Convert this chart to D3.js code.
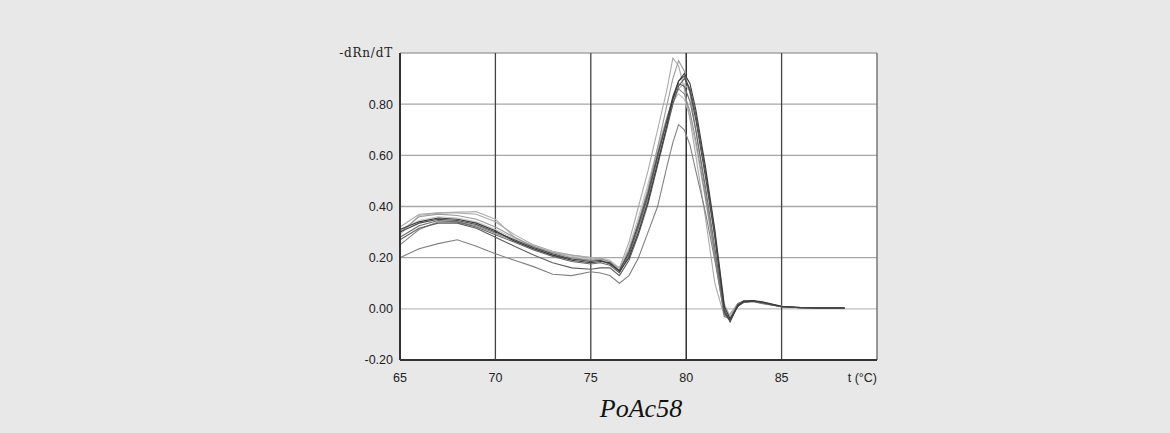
<!DOCTYPE html>
<html>
<head>
<meta charset="utf-8">
<script src="https://cdn.jsdelivr.net/npm/d3@7"></script>
<style>
  html, body { margin: 0; padding: 0; background: #e8e8e8; }
  svg { display: block; }
</style>
</head>
<body>
<svg width="1170" height="433"></svg>
<script>
// melt curve temperatures (°C)
var temps = [65, 66, 67, 68, 69, 70, 71, 72, 73, 74, 75, 75.5, 76, 76.5, 77, 77.5, 78, 78.5, 79, 79.3,
    79.6, 79.9, 80.2, 80.5, 81, 81.5, 82, 82.3, 82.7, 83, 83.5, 84, 85, 86, 87, 88.3];

// -dRn/dT for each well
var s1 = [0.30, 0.335, 0.35, 0.345, 0.33, 0.30, 0.27, 0.24, 0.215, 0.195, 0.185, 0.19, 0.175, 0.15, 0.22, 0.33, 0.45, 0.60, 0.74, 0.83,
    0.89, 0.91, 0.85, 0.74, 0.52, 0.28, -0.01, -0.05, 0.015, 0.028, 0.03, 0.025, 0.008, 0.004, 0.003, 0.003];
var s2 = [0.31, 0.34, 0.355, 0.35, 0.335, 0.305, 0.265, 0.235, 0.21, 0.19, 0.18, 0.185, 0.18, 0.145, 0.20, 0.30, 0.42, 0.57, 0.72, 0.82,
    0.89, 0.92, 0.88, 0.78, 0.56, 0.31, 0.01, -0.04, 0.01, 0.03, 0.032, 0.028, 0.01, 0.005, 0.003, 0.003];
var s3 = [0.28, 0.325, 0.345, 0.34, 0.32, 0.29, 0.26, 0.23, 0.205, 0.185, 0.175, 0.18, 0.17, 0.14, 0.21, 0.32, 0.44, 0.59, 0.74, 0.82,
    0.88, 0.87, 0.81, 0.70, 0.48, 0.24, -0.02, -0.045, 0.01, 0.025, 0.03, 0.022, 0.008, 0.004, 0.003, 0.003];
var s4 = [0.25, 0.31, 0.34, 0.34, 0.325, 0.295, 0.265, 0.235, 0.21, 0.195, 0.19, 0.19, 0.175, 0.15, 0.23, 0.34, 0.46, 0.61, 0.75, 0.82,
    0.86, 0.84, 0.77, 0.66, 0.44, 0.21, -0.03, -0.04, 0.015, 0.025, 0.028, 0.02, 0.008, 0.004, 0.003, 0.003];
var s5 = [0.32, 0.37, 0.375, 0.375, 0.37, 0.34, 0.29, 0.25, 0.225, 0.21, 0.20, 0.20, 0.18, 0.16, 0.26, 0.40, 0.54, 0.70, 0.86, 0.98,
    0.95, 0.86, 0.74, 0.60, 0.36, 0.10, -0.03, -0.02, 0.02, 0.03, 0.03, 0.022, 0.01, 0.005, 0.003, 0.003];
var s6 = [0.30, 0.36, 0.37, 0.365, 0.35, 0.32, 0.28, 0.245, 0.22, 0.20, 0.19, 0.195, 0.185, 0.15, 0.22, 0.34, 0.47, 0.63, 0.80, 0.90,
    0.97, 0.93, 0.84, 0.70, 0.46, 0.22, -0.02, -0.04, 0.015, 0.03, 0.03, 0.024, 0.008, 0.004, 0.003, 0.003];
var s7 = [0.29, 0.365, 0.375, 0.378, 0.38, 0.35, 0.28, 0.24, 0.22, 0.21, 0.20, 0.195, 0.185, 0.16, 0.21, 0.31, 0.43, 0.57, 0.71, 0.80,
    0.86, 0.88, 0.85, 0.75, 0.54, 0.30, 0.02, -0.03, 0.02, 0.03, 0.03, 0.026, 0.01, 0.005, 0.003, 0.003];
var s8 = [0.20, 0.235, 0.255, 0.27, 0.245, 0.215, 0.19, 0.165, 0.135, 0.13, 0.145, 0.14, 0.13, 0.10, 0.13, 0.20, 0.30, 0.40, 0.56, 0.65,
    0.72, 0.70, 0.64, 0.54, 0.38, 0.19, -0.02, -0.04, 0.02, 0.03, 0.03, 0.025, 0.008, 0.004, 0.003, 0.003];
var s9 = [0.27, 0.315, 0.335, 0.335, 0.315, 0.28, 0.245, 0.21, 0.18, 0.16, 0.155, 0.16, 0.16, 0.13, 0.19, 0.29, 0.41, 0.56, 0.71, 0.80,
    0.87, 0.90, 0.86, 0.76, 0.54, 0.29, 0.0, -0.05, 0.01, 0.025, 0.03, 0.025, 0.008, 0.004, 0.003, 0.003];
var s10 = [0.31, 0.345, 0.36, 0.355, 0.34, 0.31, 0.275, 0.245, 0.22, 0.205, 0.195, 0.2, 0.19, 0.16, 0.24, 0.36, 0.49, 0.63, 0.75, 0.81,
    0.84, 0.82, 0.75, 0.64, 0.43, 0.20, -0.03, -0.03, 0.02, 0.03, 0.03, 0.025, 0.01, 0.005, 0.003, 0.003];

var series = [s10, s7, s5, s6, s4, s8, s3, s9, s1, s2];
var colors = ["#c4c4c4", "#b4b4b4", "#aaaaaa", "#9a9a9a", "#8a8a8a", "#808080", "#6a6a6a", "#5e5e5e", "#4a4a4a", "#3a3a3a"];

var xTicks = [65, 70, 75, 80, 85];
var yTicks = [-0.2, 0, 0.2, 0.4, 0.6, 0.8];
var title = "PoAc58";

var svg = d3.select("svg");
var pLeft = 400, pTop = 53, pRight = 877, pBottom = 360;

var x = d3.scaleLinear().domain([65, 90]).range([pLeft, pRight]);
var y = d3.scaleLinear().domain([-0.2, 1.0]).range([pBottom, pTop]);

// plot area
svg.append("rect")
    .attr("x", pLeft).attr("y", pTop)
    .attr("width", pRight - pLeft).attr("height", pBottom - pTop)
    .attr("fill", "#ffffff");

// horizontal grid
svg.append("g").selectAll("line")
    .data(yTicks.concat([1.0]))
    .enter().append("line")
    .attr("x1", pLeft).attr("x2", pRight)
    .attr("y1", function (d) { return y(d); })
    .attr("y2", function (d) { return y(d); })
    .attr("stroke", function (d) { return d === 0 ? "#bdbdbd" : "#a6a6a6"; })
    .attr("stroke-width", 1.3);

// vertical grid
svg.append("g").selectAll("line")
    .data([70, 75, 80, 85])
    .enter().append("line")
    .attr("x1", function (d) { return x(d); })
    .attr("x2", function (d) { return x(d); })
    .attr("y1", pTop).attr("y2", pBottom)
    .attr("stroke", function (d) { return d === 80 ? "#111" : "#444"; })
    .attr("stroke-width", 1.3);

// right border
svg.append("line")
    .attr("x1", pRight).attr("x2", pRight).attr("y1", pTop).attr("y2", pBottom)
    .attr("stroke", "#777").attr("stroke-width", 1.5);

// curves
var line = d3.line()
    .x(function (d, i) { return x(temps[i]); })
    .y(function (d) { return y(d); });

svg.append("g").selectAll("path")
    .data(series)
    .enter().append("path")
    .attr("d", line)
    .attr("fill", "none")
    .attr("stroke", function (d, i) { return colors[i]; })
    .attr("stroke-width", 1.1);

// axes lines
svg.append("line")
    .attr("x1", pLeft).attr("x2", pLeft).attr("y1", pTop).attr("y2", pBottom)
    .attr("stroke", "#333").attr("stroke-width", 2);
svg.append("line")
    .attr("x1", pLeft).attr("x2", pRight).attr("y1", pBottom).attr("y2", pBottom)
    .attr("stroke", "#333").attr("stroke-width", 2);

// y labels
svg.append("g").selectAll("text")
    .data(yTicks)
    .enter().append("text")
    .attr("x", 393)
    .attr("y", function (d) { return y(d); })
    .attr("dy", "0.35em")
    .attr("text-anchor", "end")
    .attr("font-family", "Liberation Sans, Arial, sans-serif")
    .attr("font-size", "12.5px")
    .attr("fill", "#222")
    .text(function (d) { return d3.format(".2f")(d).replace("−", "-"); });

svg.append("text")
    .attr("x", 393).attr("y", pTop)
    .attr("dy", "0.35em")
    .attr("text-anchor", "end")
    .attr("font-family", "DejaVu Serif, serif")
    .attr("font-size", "12px")
    .attr("letter-spacing", "0.8px")
    .attr("fill", "#222")
    .text("-dRn/dT");

// x labels
svg.append("g").selectAll("text")
    .data(xTicks)
    .enter().append("text")
    .attr("x", function (d) { return x(d); })
    .attr("y", 382)
    .attr("text-anchor", "middle")
    .attr("font-family", "Liberation Sans, Arial, sans-serif")
    .attr("font-size", "12.5px")
    .attr("fill", "#222")
    .text(function (d) { return d; });

svg.append("text")
    .attr("x", 877).attr("y", 382)
    .attr("text-anchor", "end")
    .attr("font-family", "Liberation Sans, Arial, sans-serif")
    .attr("font-size", "12.5px")
    .attr("fill", "#222")
    .text("t (°C)");

svg.append("text")
    .attr("x", 641).attr("y", 417)
    .attr("text-anchor", "middle")
    .attr("font-family", "Liberation Serif, Times New Roman, serif")
    .attr("font-style", "italic")
    .attr("font-size", "26px")
    .attr("fill", "#111")
    .text(title);
</script>
</body>
</html>
